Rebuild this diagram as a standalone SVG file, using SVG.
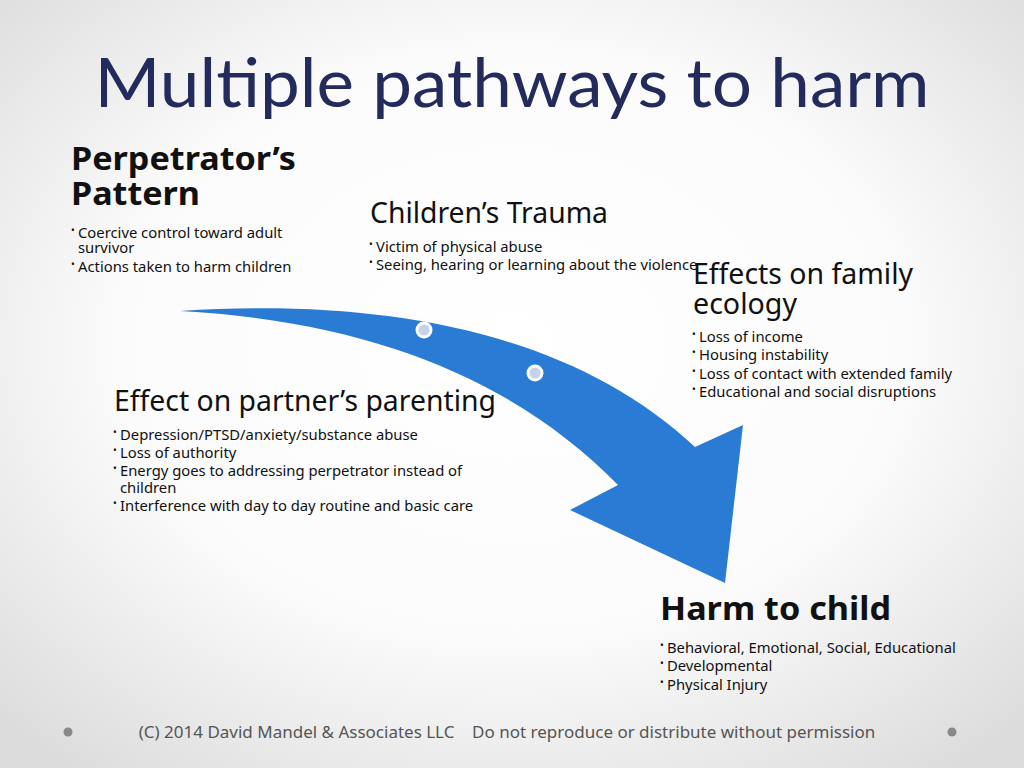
<svg xmlns="http://www.w3.org/2000/svg" width="1024" height="768" viewBox="0 0 1024 768">
<defs>
<radialGradient id="bg" cx="50%" cy="45%" r="70%">
<stop offset="0" stop-color="#ffffff"/>
<stop offset="0.55" stop-color="#fbfbfb"/>
<stop offset="1" stop-color="#dcdcdc"/>
</radialGradient>
<style>
.t{font-family:"Noto Sans","Open Sans","DejaVu Sans",sans-serif;fill:#111}
.h{font-size:28.5px}
.hb{font-size:33px;font-weight:bold}
.b{font-size:14.8px}
.d{font-size:10px}
.dot{fill:#c5d3ea;stroke:#ffffff;stroke-width:3}
.foot{font-family:"Noto Sans","Open Sans",sans-serif;font-size:17px;fill:#555}
</style>
</defs>
<rect width="1024" height="768" fill="url(#bg)"/>
<text x="512" y="107" text-anchor="middle" font-family="Lato,'Open Sans',sans-serif" font-size="68" fill="#232a5c" textLength="835" lengthAdjust="spacingAndGlyphs">Multiple pathways to harm</text>

<g id="connectors">
<path id="arrow" d="M180,311 C380,298 570,330 695,447 L743,425 L725,583 L570,510 L618,485 C520,385 380,322 180,311 Z" fill="#2a7bd4"/>
<circle class="dot" cx="424" cy="330" r="7"/>
<circle class="dot" cx="535" cy="373" r="7"/>
</g>

<g id="perpetrator">
<text class="t hb" x="71" y="170" textLength="225" lengthAdjust="spacingAndGlyphs">Perpetrator’s</text>
<text class="t hb" x="71" y="205" textLength="129" lengthAdjust="spacingAndGlyphs">Pattern</text>
<text class="t d" x="71" y="234">•</text><text class="t b" x="78" y="238">Coercive control toward adult</text>
<text class="t b" x="78" y="253">survivor</text>
<text class="t d" x="71" y="268">•</text><text class="t b" x="78" y="272">Actions taken to harm children</text>
</g>

<g id="trauma">
<text class="t h" x="370" y="223" textLength="238" lengthAdjust="spacingAndGlyphs">Children’s Trauma</text>
<text class="t d" x="369" y="248">•</text><text class="t b" x="376" y="252">Victim of physical abuse</text>
<text class="t d" x="369" y="266">•</text><text class="t b" x="376" y="270">Seeing, hearing or learning about the violence</text>
</g>

<g id="ecology">
<text class="t h" x="693" y="284" textLength="220" lengthAdjust="spacingAndGlyphs">Effects on family</text>
<text class="t h" x="693" y="314" textLength="104" lengthAdjust="spacingAndGlyphs">ecology</text>
<text class="t d" x="692" y="338">•</text><text class="t b" x="699" y="342">Loss of income</text>
<text class="t d" x="692" y="356">•</text><text class="t b" x="699" y="360">Housing instability</text>
<text class="t d" x="692" y="375">•</text><text class="t b" x="699" y="379">Loss of contact with extended family</text>
<text class="t d" x="692" y="393">•</text><text class="t b" x="699" y="397">Educational and social disruptions</text>
</g>

<g id="parenting">
<text class="t h" x="114" y="411" textLength="382" lengthAdjust="spacingAndGlyphs">Effect on partner’s parenting</text>
<text class="t d" x="113" y="436">•</text><text class="t b" x="120" y="440">Depression/PTSD/anxiety/substance abuse</text>
<text class="t d" x="113" y="454">•</text><text class="t b" x="120" y="458">Loss of authority</text>
<text class="t d" x="113" y="472">•</text><text class="t b" x="120" y="476">Energy goes to addressing perpetrator instead of</text>
<text class="t b" x="120" y="493">children</text>
<text class="t d" x="113" y="507">•</text><text class="t b" x="120" y="511">Interference with day to day routine and basic care</text>
</g>

<g id="harm">
<text class="t hb" x="660" y="620" textLength="231" lengthAdjust="spacingAndGlyphs">Harm to child</text>
<text class="t d" x="660" y="649">•</text><text class="t b" x="667" y="653">Behavioral, Emotional, Social, Educational</text>
<text class="t d" x="660" y="667">•</text><text class="t b" x="667" y="671">Developmental</text>
<text class="t d" x="660" y="686">•</text><text class="t b" x="667" y="690">Physical Injury</text>
</g>

<g id="footer">
<circle cx="68" cy="732" r="4.5" fill="#888"/>
<circle cx="952" cy="732" r="4.5" fill="#888"/>
<text class="foot" x="507" y="738" text-anchor="middle" xml:space="preserve">(C) 2014 David Mandel &amp; Associates LLC    Do not reproduce or distribute without permission</text>
</g>
</svg>
